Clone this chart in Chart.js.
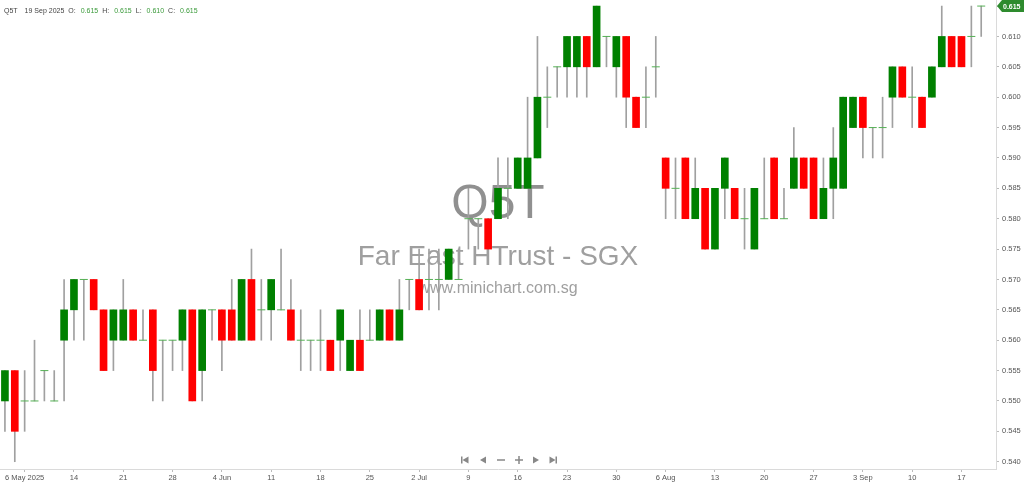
<!DOCTYPE html>
<html>
<head>
<meta charset="utf-8">
<script src="https://cdn.jsdelivr.net/npm/chart.js@4.4.1/dist/chart.umd.min.js"></script>
<style>
html, body { margin: 0; padding: 0; background: #fff; }
#wrap { width: 1024px; height: 484px; }
</style>
</head>
<body>
<div id="wrap"><canvas id="q5t-chart"></canvas></div>
<script>
var symbol = 'Q5T';
var title = 'Far East HTrust - SGX';
var site = 'www.minichart.com.sg';

var dates = [
    '2 May 2025', '5 May 2025', '6 May 2025', '7 May 2025', '8 May 2025', '9 May 2025', '13 May 2025', '14 May 2025',
    '15 May 2025', '16 May 2025', '19 May 2025', '20 May 2025', '21 May 2025', '22 May 2025', '23 May 2025', '26 May 2025',
    '27 May 2025', '28 May 2025', '29 May 2025', '30 May 2025',
    '2 Jun 2025', '3 Jun 2025', '4 Jun 2025', '5 Jun 2025', '6 Jun 2025', '9 Jun 2025', '10 Jun 2025', '11 Jun 2025',
    '12 Jun 2025', '13 Jun 2025', '16 Jun 2025', '17 Jun 2025', '18 Jun 2025', '19 Jun 2025', '20 Jun 2025', '23 Jun 2025',
    '24 Jun 2025', '25 Jun 2025', '26 Jun 2025', '27 Jun 2025', '30 Jun 2025',
    '1 Jul 2025', '2 Jul 2025', '3 Jul 2025', '4 Jul 2025', '7 Jul 2025', '8 Jul 2025', '9 Jul 2025', '10 Jul 2025',
    '11 Jul 2025', '14 Jul 2025', '15 Jul 2025', '16 Jul 2025', '17 Jul 2025', '18 Jul 2025', '21 Jul 2025', '22 Jul 2025',
    '23 Jul 2025', '24 Jul 2025', '25 Jul 2025', '28 Jul 2025', '29 Jul 2025', '30 Jul 2025', '31 Jul 2025',
    '1 Aug 2025', '4 Aug 2025', '5 Aug 2025', '6 Aug 2025', '7 Aug 2025', '8 Aug 2025', '11 Aug 2025', '12 Aug 2025',
    '13 Aug 2025', '14 Aug 2025', '15 Aug 2025', '18 Aug 2025', '19 Aug 2025', '20 Aug 2025', '21 Aug 2025', '22 Aug 2025',
    '25 Aug 2025', '26 Aug 2025', '27 Aug 2025', '28 Aug 2025', '29 Aug 2025',
    '1 Sep 2025', '2 Sep 2025', '3 Sep 2025', '4 Sep 2025', '5 Sep 2025', '8 Sep 2025', '9 Sep 2025', '10 Sep 2025',
    '11 Sep 2025', '12 Sep 2025', '15 Sep 2025', '16 Sep 2025', '17 Sep 2025', '18 Sep 2025', '19 Sep 2025'
];

var open = [
    0.550, 0.555, 0.550, 0.550, 0.555, 0.550, 0.560, 0.565, 0.570, 0.570,
    0.565, 0.560, 0.560, 0.565, 0.560, 0.565, 0.560, 0.560, 0.560, 0.565,
    0.555, 0.565, 0.565, 0.565, 0.560, 0.570, 0.565, 0.565, 0.565, 0.565,
    0.560, 0.560, 0.560, 0.560, 0.560, 0.555, 0.560, 0.560, 0.560, 0.565,
    0.560, 0.570, 0.570, 0.570, 0.570, 0.570, 0.570, 0.580, 0.580, 0.580,
    0.580, 0.585, 0.585, 0.585, 0.590, 0.600, 0.605, 0.605, 0.605, 0.610,
    0.605, 0.610, 0.605, 0.610, 0.600, 0.600, 0.605, 0.590, 0.585, 0.590,
    0.580, 0.585, 0.575, 0.585, 0.585, 0.580, 0.575, 0.580, 0.590, 0.580,
    0.585, 0.590, 0.590, 0.580, 0.585, 0.585, 0.595, 0.600, 0.595, 0.595,
    0.600, 0.605, 0.600, 0.600, 0.600, 0.605, 0.610, 0.610, 0.610, 0.615
];
var high = [
    0.555, 0.555, 0.555, 0.560, 0.555, 0.555, 0.570, 0.570, 0.570, 0.570,
    0.565, 0.565, 0.570, 0.565, 0.565, 0.565, 0.560, 0.560, 0.565, 0.565,
    0.565, 0.565, 0.565, 0.570, 0.570, 0.575, 0.570, 0.570, 0.575, 0.570,
    0.565, 0.560, 0.565, 0.560, 0.565, 0.560, 0.565, 0.565, 0.565, 0.565,
    0.570, 0.570, 0.575, 0.575, 0.575, 0.575, 0.575, 0.585, 0.580, 0.580,
    0.590, 0.590, 0.590, 0.600, 0.610, 0.605, 0.605, 0.610, 0.610, 0.610,
    0.615, 0.610, 0.610, 0.610, 0.600, 0.605, 0.610, 0.590, 0.590, 0.590,
    0.590, 0.585, 0.585, 0.590, 0.585, 0.585, 0.585, 0.590, 0.590, 0.585,
    0.595, 0.590, 0.590, 0.590, 0.595, 0.600, 0.600, 0.600, 0.595, 0.600,
    0.605, 0.605, 0.605, 0.600, 0.605, 0.615, 0.610, 0.610, 0.615, 0.615
];
var low = [
    0.545, 0.540, 0.545, 0.550, 0.550, 0.550, 0.550, 0.560, 0.560, 0.565,
    0.555, 0.555, 0.560, 0.560, 0.560, 0.550, 0.550, 0.555, 0.555, 0.550,
    0.550, 0.560, 0.555, 0.560, 0.560, 0.560, 0.560, 0.560, 0.565, 0.560,
    0.555, 0.555, 0.555, 0.555, 0.555, 0.555, 0.555, 0.560, 0.560, 0.560,
    0.560, 0.565, 0.565, 0.565, 0.565, 0.570, 0.570, 0.575, 0.575, 0.575,
    0.580, 0.580, 0.585, 0.585, 0.590, 0.595, 0.600, 0.600, 0.600, 0.600,
    0.605, 0.605, 0.600, 0.595, 0.595, 0.595, 0.600, 0.580, 0.580, 0.580,
    0.580, 0.575, 0.575, 0.580, 0.580, 0.575, 0.575, 0.580, 0.580, 0.580,
    0.585, 0.585, 0.580, 0.580, 0.580, 0.585, 0.595, 0.590, 0.590, 0.590,
    0.595, 0.600, 0.595, 0.595, 0.600, 0.605, 0.605, 0.605, 0.605, 0.610
];
var close = [
    0.555, 0.545, 0.550, 0.550, 0.555, 0.550, 0.565, 0.570, 0.570, 0.565,
    0.555, 0.565, 0.565, 0.560, 0.560, 0.555, 0.560, 0.560, 0.565, 0.550,
    0.565, 0.565, 0.560, 0.560, 0.570, 0.560, 0.565, 0.570, 0.565, 0.560,
    0.560, 0.560, 0.560, 0.555, 0.565, 0.560, 0.555, 0.560, 0.565, 0.560,
    0.565, 0.570, 0.565, 0.570, 0.570, 0.575, 0.570, 0.580, 0.580, 0.575,
    0.585, 0.585, 0.590, 0.590, 0.600, 0.600, 0.605, 0.610, 0.610, 0.605,
    0.615, 0.610, 0.610, 0.600, 0.595, 0.600, 0.605, 0.585, 0.585, 0.580,
    0.585, 0.575, 0.585, 0.590, 0.580, 0.580, 0.585, 0.580, 0.580, 0.580,
    0.590, 0.585, 0.580, 0.585, 0.590, 0.600, 0.600, 0.595, 0.595, 0.595,
    0.605, 0.600, 0.600, 0.595, 0.605, 0.610, 0.605, 0.605, 0.610, 0.615
];

var tickDates = [
    '6 May 2025', '14 May 2025', '21 May 2025', '28 May 2025', '4 Jun 2025', '11 Jun 2025', '18 Jun 2025',
    '25 Jun 2025', '2 Jul 2025', '9 Jul 2025', '16 Jul 2025', '23 Jul 2025', '30 Jul 2025', '6 Aug 2025',
    '13 Aug 2025', '20 Aug 2025', '27 Aug 2025', '3 Sep 2025', '10 Sep 2025', '17 Sep 2025'
];
var tickText = [
    '6 May 2025', '14', '21', '28', '4 Jun', '11', '18', '25', '2 Jul', '9', '16', '23', '30', '6 Aug',
    '13', '20', '27', '3 Sep', '10', '17'
];

var upColor = '#008000';
var downColor = '#ff0000';
var tickIdx = tickDates.map(function (d) { return dates.indexOf(d); });
var last = dates.length - 1;

function fmt(v) { return v.toFixed(3); }

// scales fill the canvas edge to edge, no label padding
function noPad(s) {
    s.paddingTop = 0;
    s.paddingBottom = 0;
    s.paddingLeft = 0;
    s.paddingRight = 0;
}

var decor = {
    id: 'decor',
    beforeDatasetsDraw: function (chart) {
        var c = chart.ctx, a = chart.chartArea;
        var cx = (a.left + a.right) / 2, cy = (a.top + a.bottom) / 2;
        c.save();
        c.textAlign = 'center';
        c.textBaseline = 'middle';
        c.fillStyle = 'rgba(125,125,125,0.85)';
        c.font = '48px "Liberation Sans"';
        c.fillText(symbol, cx, cy - 30);
        c.fillStyle = 'rgba(135,135,135,0.8)';
        c.font = '28px "Liberation Sans"';
        c.fillText(title, cx, cy + 23);
        c.font = '16px "Liberation Sans"';
        c.fillText(site, cx, cy + 54);
        c.restore();
    },
    afterDraw: function (chart) {
        var c = chart.ctx, a = chart.chartArea;
        var cx = (a.left + a.right) / 2;
        c.save();

        // header line
        var parts = [
            [symbol, '#444', 7], [dates[last], '#444', 4],
            ['O:', '#444', 5], [fmt(open[last]), '#3a9a3a', 4],
            ['H:', '#444', 5], [fmt(high[last]), '#3a9a3a', 4],
            ['L:', '#444', 5], [fmt(low[last]), '#3a9a3a', 4],
            ['C:', '#444', 5], [fmt(close[last]), '#3a9a3a', 0]
        ];
        c.font = '7px "Liberation Sans"';
        c.textBaseline = 'middle';
        c.textAlign = 'left';
        var x = 4;
        parts.forEach(function (p) {
            c.fillStyle = p[1];
            c.fillText(p[0], x, 11);
            x += c.measureText(p[0]).width + p[2];
        });

        // last price tag
        var y = chart.scales.y.getPixelForValue(close[last]);
        var x0 = a.right + 1;
        c.fillStyle = '#2e8b2e';
        c.beginPath();
        c.moveTo(x0, y);
        c.lineTo(x0 + 5, y - 6);
        c.lineTo(chart.width, y - 6);
        c.lineTo(chart.width, y + 6);
        c.lineTo(x0 + 5, y + 6);
        c.closePath();
        c.fill();
        c.fillStyle = '#fff';
        c.font = 'bold 7px "Liberation Sans"';
        c.fillText(fmt(close[last]), x0 + 6, y + 0.5);

        // navigation buttons
        var ny = a.bottom - 9;
        c.fillStyle = '#888';
        c.strokeStyle = '#888';
        c.lineWidth = 1.5;
        function tri(px, dir) {
            c.beginPath();
            c.moveTo(px - 3 * dir, ny);
            c.lineTo(px + 3 * dir, ny - 3.5);
            c.lineTo(px + 3 * dir, ny + 3.5);
            c.closePath();
            c.fill();
        }
        var p1 = cx - 33;
        c.fillRect(p1 - 4, ny - 3.5, 1.5, 7);
        tri(p1 + 0.5, 1);
        tri(cx - 15, 1);
        c.beginPath();
        c.moveTo(cx - 1, ny); c.lineTo(cx + 7, ny);
        c.moveTo(cx + 17, ny); c.lineTo(cx + 25, ny);
        c.moveTo(cx + 21, ny - 4); c.lineTo(cx + 21, ny + 4);
        c.stroke();
        tri(cx + 38, -1);
        var p6 = cx + 55;
        tri(p6 - 0.5, -1);
        c.fillRect(p6 + 2.5, ny - 3.5, 1.5, 7);
        c.restore();
    }
};

var axisFont = { size: 7.5, family: 'Liberation Sans' };

new Chart(document.getElementById('q5t-chart'), {
    type: 'bar',
    data: {
        labels: dates.concat(['']),
        datasets: [{
                type: 'line',
                label: 'doji',
                data: close.map(function (v, i) { return open[i] === v ? v : null; }),
                showLine: false,
                pointStyle: 'line',
                pointRadius: 4,
                pointHoverRadius: 4,
                borderColor: '#55b055',
                pointBorderColor: '#55b055',
                pointBorderWidth: 1
            }, {
                label: 'body',
                data: close.map(function (v, i) { return open[i] === v ? null : [open[i], v]; }),
                backgroundColor: close.map(function (v, i) { return v > open[i] ? upColor : downColor; }),
                barThickness: 7,
                grouped: false
            }, {
                label: 'wick',
                data: low.map(function (v, i) { return [v, high[i]]; }),
                backgroundColor: '#a0a0a0',
                barThickness: 1,
                grouped: false
            }
        ]
    },
    options: {
        responsive: true,
        maintainAspectRatio: false,
        animation: false,
        layout: { padding: 0, autoPadding: false },
        plugins: {
            legend: { display: false },
            tooltip: { enabled: false }
        },
        scales: {
            x: {
                offset: true,
                grid: { offset: false, drawOnChartArea: false, tickLength: 3, color: '#bbb' },
                border: { color: '#dadada' },
                ticks: {
                    autoSkip: false,
                    maxRotation: 0,
                    padding: 1,
                    color: '#555',
                    font: axisFont,
                    callback: function (v) { return tickText[tickIdx.indexOf(v)]; }
                },
                afterBuildTicks: function (s) {
                    s.ticks = tickIdx.map(function (v) { return { value: v }; });
                },
                afterFit: function (s) { s.height = 15; noPad(s); }
            },
            y: {
                position: 'right',
                min: 0.5388,
                max: 0.616,
                grid: { drawOnChartArea: false, tickLength: 3, color: '#bbb' },
                border: { color: '#dadada' },
                ticks: {
                    stepSize: 0.005,
                    includeBounds: false,
                    padding: 3,
                    color: '#555',
                    font: axisFont,
                    callback: function (v) { return fmt(v); }
                },
                afterFit: function (s) { s.width = 28; noPad(s); }
            }
        }
    },
    plugins: [decor]
});
</script>
</body>
</html>
